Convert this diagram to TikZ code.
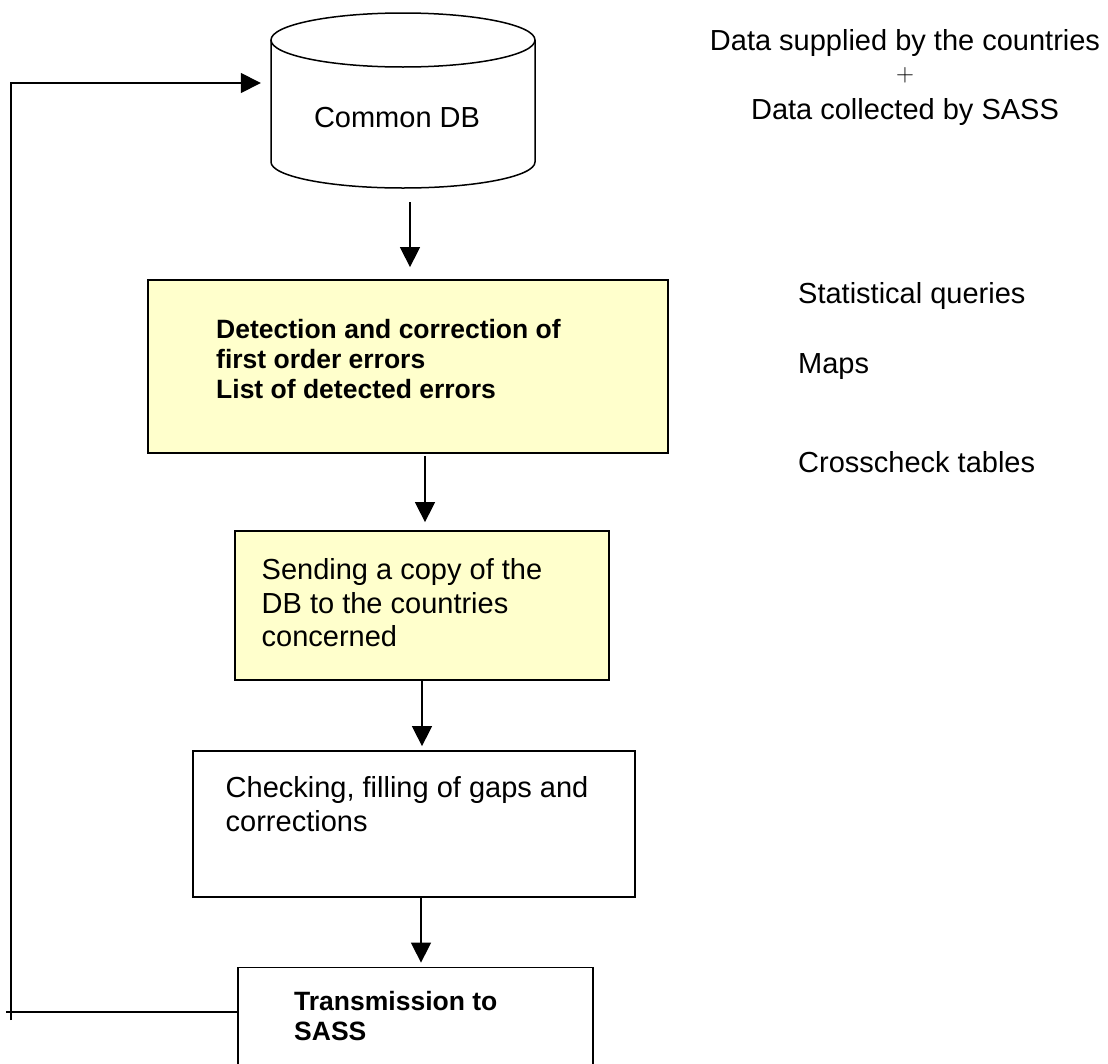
\documentclass[tikz,border=0pt]{standalone}
\usepackage{fontspec}
\setmainfont{Liberation Sans}
\usetikzlibrary{arrows.meta}
\definecolor{noteyellow}{HTML}{FFFFCC}
\begin{document}
\begin{tikzpicture}[x=1pt,y=-1pt,
  box/.style={draw=black, line width=1.8pt, rectangle, inner sep=0pt},
  yellowbox/.style={box, fill=noteyellow},
  frame/.style={rectangle, inner sep=0pt, draw=none},
  conn/.style={line width=1.5pt},
  arr/.style={conn, -{Triangle[length=20pt,width=20pt]}},
  plain/.style={font=\fontsize{29}{33.5}\selectfont, align=left, inner sep=0pt},
  strong/.style={font=\fontsize{26.5}{30}\selectfont\bfseries, align=left, inner sep=0pt},
]
\useasboundingbox (0,0) rectangle (1108,1063);
\clip (0,0) rectangle (1108,1063);
\fill[white] (0,0) rectangle (1108,1063);

% database cylinder
\draw[line width=1.5pt, fill=white] (271,40) -- (271,162)
  arc[start angle=180, end angle=360, x radius=132pt, y radius=26pt] -- (535,40);
\draw[line width=1.5pt, fill=white] (403,40) ellipse [x radius=132pt, y radius=27pt];
\node[frame, minimum width=264pt, minimum height=176pt] (db) at (403,100) {};
\node[plain, anchor=center] (dbtext) at (397,117.5) {Common DB};

% process boxes
\node[yellowbox, minimum width=520pt, minimum height=173pt] (b1) at (408,366.5) {};
\node[yellowbox, minimum width=374pt, minimum height=149pt] (b2) at (422,605.5) {};
\node[box, fill=white, minimum width=442pt, minimum height=146pt] (b3) at (414,824) {};
\node[box, fill=white, minimum width=355pt, minimum height=120pt] (b4) at (415.5,1027.5) {};

\node[strong, anchor=north west] (t1) at (216,319)
  {Detection and correction of\\first order errors\\List of detected errors};
\node[plain, anchor=north west] (t2) at (261.5,558.5)
  {Sending a copy of the\\DB to the countries\\concerned};
\node[plain, anchor=north west] (t3) at (225.5,776.5)
  {Checking, filling of gaps and\\corrections};
\node[strong, anchor=north west] (t4) at (294,991)
  {Transmission to\\SASS};

% notes on the right
\node[plain, anchor=base] (src1) at (905,50) {Data supplied by the countries};
\node[font=\fontsize{24}{24}\selectfont, inner sep=0pt] (plus) at (905,75) {$+$};
\node[plain, anchor=base] (src2) at (905,119) {Data collected by SASS};
\node[plain, anchor=base west] (q1) at (798,303) {Statistical queries};
\node[plain, anchor=base west] (q2) at (798,373) {Maps};
\node[plain, anchor=base west] (q3) at (798,472.7) {Crosscheck tables};

% flow arrows
\draw[arr] ([xshift=7pt,yshift=-14pt]db.south) -- ([xshift=2pt,yshift=12pt]b1.north);
\draw[arr] ([xshift=17pt,yshift=-2pt]b1.south) -- ([xshift=3pt,yshift=8pt]b2.north);
\draw[arr] (b2.south) -- ([xshift=8pt,yshift=4pt]b3.north);
\draw[arr] ([xshift=7pt]b3.south) -- ([xshift=5.5pt,yshift=4pt]b4.north);

% feedback loop back to the database
\coordinate (bl) at (11,1012);
\coordinate (tl) at (11,83);
\draw[conn] (b4.west |- bl) -- ([xshift=-5pt]bl);
\draw[arr] ([yshift=-8pt]bl) -- (tl) -- ([xshift=-10pt]db.west |- tl);
\end{tikzpicture}
\end{document}
